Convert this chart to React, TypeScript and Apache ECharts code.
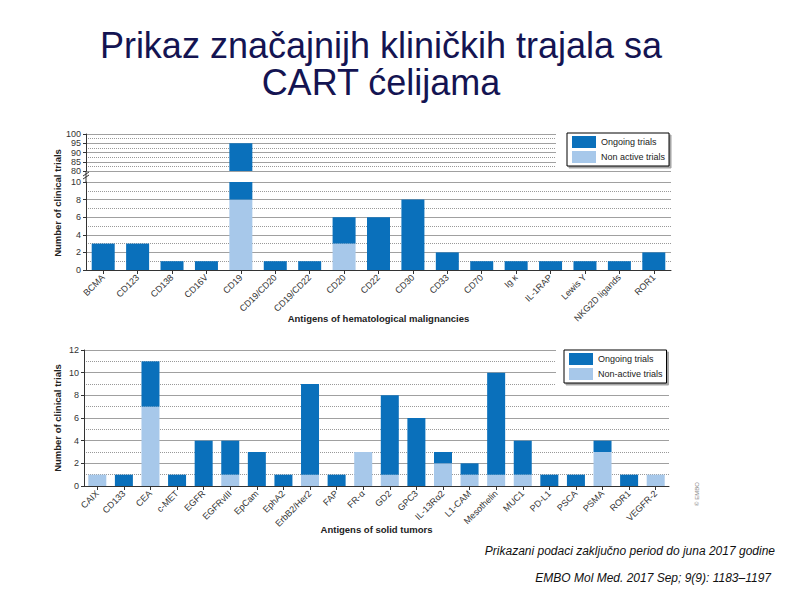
import React, { useEffect, useRef } from "react";
import * as echarts from "echarts";

const hemaCategories = [
  "BCMA", "CD123", "CD138", "CD16V", "CD19", "CD19/CD20", "CD19/CD22", "CD20", "CD22",
  "CD30", "CD33", "CD70", "Ig κ", "IL-1RAP", "Lewis Y", "NKG2D ligands", "ROR1",
];
const hemaOngoing = [3, 3, 1, 1, 87, 1, 1, 3, 6, 8, 2, 1, 1, 1, 1, 1, 2];
const hemaNonActive = [0, 0, 0, 0, 8, 0, 0, 3, 0, 0, 0, 0, 0, 0, 0, 0, 0];

const solidCategories = [
  "CAIX", "CD133", "CEA", "c-MET", "EGFR", "EGFRvIII", "EpCam", "EphA2", "ErbB2/Her2", "FAP",
  "FR-α", "GD2", "GPC3", "IL-13Rα2", "L1-CAM", "Mesothelin", "MUC1", "PD-L1", "PSCA", "PSMA",
  "ROR1", "VEGFR-2",
];
const solidOngoing = [0, 1, 4, 1, 4, 3, 3, 1, 8, 1, 0, 7, 6, 1, 1, 9, 3, 1, 1, 1, 1, 0];
const solidNonActive = [1, 0, 7, 0, 0, 1, 0, 0, 1, 0, 3, 1, 0, 2, 1, 1, 1, 0, 0, 3, 0, 1];

const upperTicks = [80, 100, 5];
const lowerTicks = [0, 10, 2];
const solidTicks = [0, 12, 2];

const titleLines = ["Prikaz značajnijh kliničkih trajala sa", "CART ćelijama"];
const footnote = "Prikazani podaci zaključno period do juna 2017 godine";
const citation = "EMBO Mol Med. 2017 Sep; 9(9): 1183–1197";

export default function App() {
  const ref = useRef<HTMLDivElement>(null);
  useEffect(() => {
    document.body.style.margin = "0";
    const chart = echarts.init(ref.current!, null, { renderer: "svg" });
    const font = "Liberation Sans, Arial, sans-serif";
    const dark = "#0a70bb";
    const light = "#a7c8ea";
    const axisLine = { show: true, lineStyle: { color: "#333", width: 1 } };
    const splitLine = { show: true, lineStyle: { color: "#a0a0a0", width: 1 } };
    const minorSplitLine = { show: true, lineStyle: { color: "#999", width: 1, type: "dotted" } };
    const yLabel = { fontSize: 9, color: "#333", fontFamily: font, margin: 5 };
    const yTick = { show: true, length: 3, lineStyle: { color: "#333" } };
    const xLabel = { rotate: 45, fontSize: 9, color: "#333", fontFamily: font, interval: 0, margin: 6 };
    const xTick = { show: true, alignWithLabel: true, length: 4, interval: 0, lineStyle: { color: "#333" } };
    const nameStyle = { fontSize: 9.5, fontWeight: "bold", color: "#222", fontFamily: font };

    const mkY = (gi: number, t: number[], extra: any = {}) => ({
      type: "value",
      gridIndex: gi,
      min: t[0],
      max: t[1],
      interval: t[2],
      axisLine,
      axisTick: yTick,
      axisLabel: yLabel,
      splitLine,
      minorTick: { show: false, splitNumber: 2 },
      minorSplitLine,
      ...extra,
    });

    const legendBase = {
      orient: "vertical",
      itemWidth: 24,
      itemHeight: 12,
      itemGap: 3,
      padding: [3, 4, 3, 5],
      borderColor: "#000",
      borderWidth: 1,
      backgroundColor: "#fff",
      shadowColor: "rgba(0,0,0,0.35)",
      shadowOffsetX: 2,
      shadowOffsetY: 2,
      shadowBlur: 0,
      icon: "rect",
      selectedMode: false,
      z: 10,
      textStyle: { fontSize: 9, color: "#222", fontFamily: font },
    };

    const bar = (name: string, xi: number, yi: number, data: number[], color: string, stack: string, w: number) => ({
      type: "bar",
      name,
      xAxisIndex: xi,
      yAxisIndex: yi,
      data,
      stack,
      barWidth: w,
      clip: true,
      itemStyle: { color },
    });

    chart.setOption({
      animation: false,
      textStyle: { fontFamily: font },
      grid: [
        { left: 86, top: 134, width: 585, height: 37 },
        { left: 86, top: 182, width: 585, height: 88 },
        { left: 84, top: 350, width: 585, height: 136 },
      ],
      xAxis: [
        { type: "category", gridIndex: 0, data: hemaCategories, show: false },
        {
          type: "category",
          gridIndex: 1,
          data: hemaCategories,
          axisLine,
          axisTick: xTick,
          axisLabel: xLabel,
          name: "Antigens of hematological malignancies",
          nameLocation: "middle",
          nameGap: 43,
          nameMoveOverlap: false,
          nameTextStyle: nameStyle,
        },
        {
          type: "category",
          gridIndex: 2,
          data: solidCategories,
          axisLine,
          axisTick: xTick,
          axisLabel: xLabel,
          name: "Antigens of solid tumors",
          nameLocation: "middle",
          nameGap: 38,
          nameMoveOverlap: false,
          nameTextStyle: nameStyle,
        },
      ],
      yAxis: [
        mkY(0, upperTicks),
        mkY(1, lowerTicks),
        mkY(2, solidTicks, {
          name: "Number of clinical trials",
          nameLocation: "middle",
          nameGap: 22,
          nameMoveOverlap: false,
          nameTextStyle: nameStyle,
        }),
      ],
      legend: [
        { ...legendBase, left: 567, top: 133, data: ["Ongoing trials", "Non active trials"] },
        { ...legendBase, left: 564, top: 350, data: ["Ongoing trials", "Non-active trials"] },
      ],
      series: [
        bar("Non active trials", 0, 0, hemaNonActive, light, "u", 23),
        bar("Ongoing trials", 0, 0, hemaOngoing, dark, "u", 23),
        bar("Non active trials", 1, 1, hemaNonActive, light, "l", 23),
        bar("Ongoing trials", 1, 1, hemaOngoing, dark, "l", 23),
        bar("Non-active trials", 2, 2, solidNonActive, light, "s", 18),
        bar("Ongoing trials", 2, 2, solidOngoing, dark, "s", 18),
      ],
      graphic: [
        { type: "rect", z: 5, shape: { x: 556, y: 128, width: 140, height: 41.5 }, style: { fill: "#fff" } },
        { type: "rect", z: 5, shape: { x: 556, y: 344, width: 140, height: 41.5 }, style: { fill: "#fff" } },
        { type: "line", z: 6, shape: { x1: 86, y1: 171, x2: 86, y2: 182 }, style: { stroke: "#333", lineWidth: 1 } },
        { type: "line", z: 7, shape: { x1: 83, y1: 176, x2: 89, y2: 172 }, style: { stroke: "#333", lineWidth: 1 } },
        { type: "line", z: 7, shape: { x1: 83, y1: 179, x2: 89, y2: 175 }, style: { stroke: "#333", lineWidth: 1 } },
        {
          type: "text",
          x: 57,
          y: 203,
          rotation: Math.PI / 2,
          style: {
            text: "Number of clinical trials",
            fontSize: 9.5,
            fontWeight: "bold",
            fill: "#222",
            fontFamily: font,
            align: "center",
            verticalAlign: "middle",
          },
        },
        {
          type: "text",
          x: 381,
          y: 45,
          style: { text: titleLines[0], fontSize: 36, fill: "#141452", fontFamily: font, align: "center", verticalAlign: "middle" },
        },
        {
          type: "text",
          x: 381,
          y: 82,
          style: { text: titleLines[1], fontSize: 36, fill: "#141452", fontFamily: font, align: "center", verticalAlign: "middle" },
        },
        {
          type: "text",
          x: 775,
          y: 551,
          style: { text: footnote, fontSize: 12, fontStyle: "italic", fill: "#111", fontFamily: font, align: "right", verticalAlign: "middle" },
        },
        {
          type: "text",
          x: 771,
          y: 578,
          style: { text: citation, fontSize: 12, fontStyle: "italic", fill: "#111", fontFamily: font, align: "right", verticalAlign: "middle" },
        },
        {
          type: "text",
          x: 697,
          y: 494,
          rotation: Math.PI / 2,
          style: { text: "© EMBO", fontSize: 6, fill: "#888", fontFamily: font, align: "center", verticalAlign: "middle" },
        },
      ],
    });
    return () => chart.dispose();
  }, []);
  return <div ref={ref} style={{ width: 794, height: 595 }} />;
}
